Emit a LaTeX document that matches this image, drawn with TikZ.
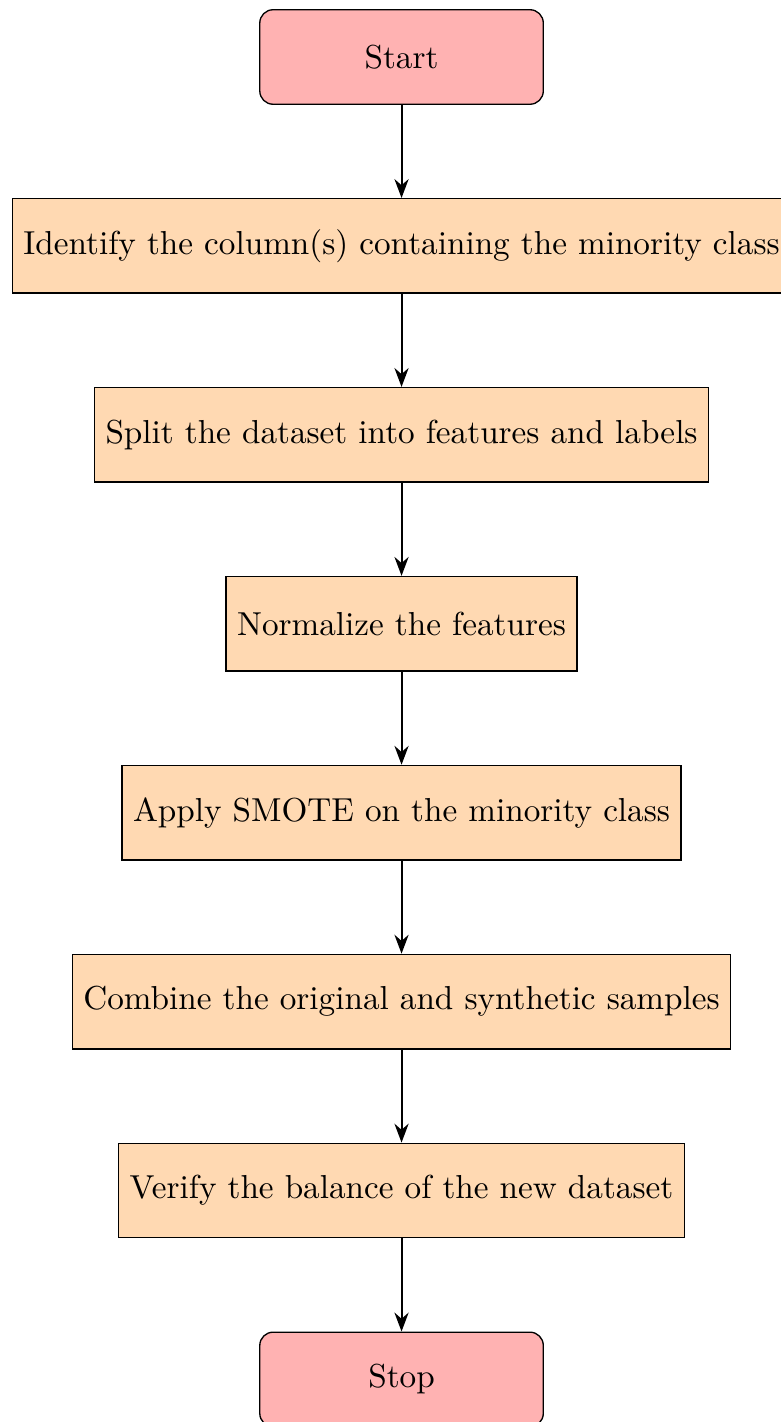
\documentclass[tikz,border=0pt]{standalone}
\usetikzlibrary{positioning,arrows.meta}
\begin{document}
\begin{tikzpicture}[
  node distance=0.985cm,
  startstop/.style={rectangle, rounded corners, minimum width=3cm, minimum height=1cm,
    text centered, draw=black, fill=red!30},
  process/.style={rectangle, minimum width=3cm, minimum height=1cm,
    text centered, draw=black, fill=orange!30},
  arrow/.style={-{Stealth[length=2mm,width=1.5mm]}, line width=0.6pt}
]
\useasboundingbox (-4.249,0.603) rectangle (4.005,-14.444);
\node (start) [startstop] at (0,0) {Start};
\node (p1) [process, below=of start] {Identify the column(s) containing the minority class};
\node (p2) [process, below=of p1] {Split the dataset into features and labels};
\node (p3) [process, below=of p2] {Normalize the features};
\node (p4) [process, below=of p3] {Apply SMOTE on the minority class};
\node (p5) [process, below=of p4] {Combine the original and synthetic samples};
\node (p6) [process, below=of p5] {Verify the balance of the new dataset};
\node (stop) [startstop, below=of p6] {Stop};
\draw [arrow] (start) -- (p1);
\draw [arrow] (p1) -- (p2);
\draw [arrow] (p2) -- (p3);
\draw [arrow] (p3) -- (p4);
\draw [arrow] (p4) -- (p5);
\draw [arrow] (p5) -- (p6);
\draw [arrow] (p6) -- (stop);
\end{tikzpicture}
\end{document}
